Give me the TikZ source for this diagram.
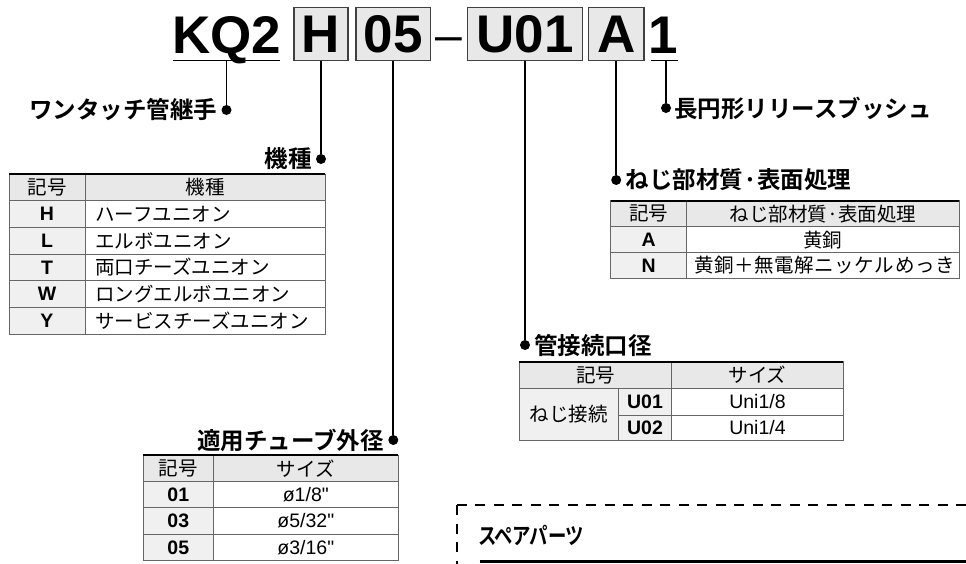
\documentclass[tikz,border=0pt]{standalone}
\usepackage{fontspec}
\setmainfont{Liberation Sans}
\newfontfamily\latin{Liberation Sans}
\newfontfamily\jp{Noto Sans CJK JP}
\newfontfamily\jpbold{Noto Sans CJK JP Bold}
\usetikzlibrary{positioning}
\newcommand\codefont{\latin\bfseries\fontsize{53}{60}\selectfont}
\newcommand\labelfont{\jpbold\fontsize{23.5}{28}\selectfont}
\newcommand\cellfont{\fontsize{19.5}{23}\selectfont}
\tikzset{
  codebox/.style={draw=black!75, fill=black!9, line width=1.4pt, minimum height=53.2pt, inner sep=0pt, font=\codefont},
  codechar/.style={inner sep=0pt, font=\codefont},
  lead/.style={line width=1.8pt},
  leaddot/.style={circle, fill=black, inner sep=0pt, minimum size=10pt},
  itemlabel/.style={inner sep=0pt, font=\labelfont},
  toprule/.style={line width=2pt},
  gridline/.style={draw=black!60, line width=0.8pt},
  headcell/.style={fill=black!9},
  keycell/.style={fill=black!6},
  cell/.style={inner sep=0pt, font=\jp\cellfont},
  keytext/.style={inner sep=0pt, font=\latin\bfseries\cellfont},
  numtext/.style={inner sep=0pt, font=\latin\cellfont},
}
\begin{document}
\begin{tikzpicture}[x=1pt,y=-1pt]
\useasboundingbox (0,0) rectangle (966,563);

% model code
\node[codechar, anchor=base] (codeKQ) at (226.5,53.3) {KQ2};
\node[codebox, minimum width=54pt] (codeH) at (321,33.9) {H};
\node[codebox, minimum width=74.7pt] (codeSize) at (393.3,33.9) {05};
\node[inner sep=0pt, anchor=base, font=\latin\fontsize{48}{50}\selectfont] (codeDash) at (449,51.5) {–};
\node[codebox, minimum width=115.4pt] (codePort) at (525,33.9) {U01};
\node[codebox, minimum width=55.7pt] (codeMat) at (616.2,33.9) {A};
\node[codechar, anchor=base] (codeBush) at (663,53.3) {1};
\draw[lead] (173,60.5) -- (280,60.5);
\draw[lead] (650.7,60.5) -- (678.3,60.5);
\coordinate (kqFoot) at (226.5,60.5);
\coordinate (bushFoot) at (666,60.5);

% leads and item labels
\node[leaddot] (kqDot) at (226.5,110) {};
\node[leaddot] (hDot) at (321,159) {};
\node[leaddot] (sizeDot) at (393.3,440) {};
\node[leaddot] (portDot) at (525,345) {};
\node[leaddot] (matDot) at (616.2,180) {};
\node[leaddot] (bushDot) at (666,108) {};
\draw[lead] (kqFoot) -- (kqDot);
\draw[lead] (codeH) -- (hDot);
\draw[lead] (codeSize) -- (sizeDot);
\draw[lead] (codePort) -- (portDot);
\draw[lead] (codeMat) -- (matDot);
\draw[lead] (bushFoot) -- (bushDot);
\node[itemlabel, left=4pt of kqDot] (kqLabel) {ワンタッチ管継手};
\node[itemlabel, left=4pt of hDot] (hLabel) {機種};
\node[itemlabel, left=4pt of sizeDot] (sizeLabel) {適用チューブ外径};
\node[itemlabel, right=4pt of portDot] (portLabel) {管接続口径};
\node[itemlabel, right=4pt of matDot] (matLabel) {ねじ部材質·表面処理};
\node[itemlabel, right=3pt of bushDot] (bushLabel) {長円形リリースブッシュ};

% table: kind
\fill[headcell] (9,174) rectangle (325,200.7);
\fill[keycell] (9,200.7) rectangle (85,334);
\foreach \y in {200.7,227.3,254,280.7,307.3} \draw[gridline] (9,\y) -- (325,\y);
\draw[gridline] (85,174) -- (85,334) (9,174) rectangle (325,334);
\draw[toprule] (9,174) -- (325,174);
\node[cell] (kindKeyHead) at (47,187.5) {記号};
\node[cell] (kindNameHead) at (205,187.5) {機種};
\foreach \k/\n [count=\i] in {H/ハーフユニオン, L/エルボユニオン, T/両口チーズユニオン, W/ロングエルボユニオン, Y/サービスチーズユニオン}{
  \node[keytext] (kindKey\i) at (47,187.5+26.67*\i) {\k};
  \node[cell, anchor=west] (kindName\i) at (95,187.5+26.67*\i) {\n};
}

% table: thread material
\fill[headcell] (610.7,200.7) rectangle (959,226.7);
\fill[keycell] (610.7,226.7) rectangle (686.7,278.3);
\draw[gridline] (610.7,226.7) -- (959,226.7) (610.7,252.7) -- (959,252.7);
\draw[gridline] (686.7,200.7) -- (686.7,278.3) (610.7,200.7) rectangle (959,278.3);
\draw[toprule] (610.7,200.7) -- (959,200.7);
\node[cell] (matKeyHead) at (648.7,213.7) {記号};
\node[cell] (matNameHead) at (822.9,213.7) {ねじ部材質·表面処理};
\node[keytext] (matKey1) at (648.7,239.7) {A};
\node[cell] (matName1) at (822.9,239.7) {黄銅};
\node[keytext] (matKey2) at (648.7,265.5) {N};
\node[cell] (matName2) at (824.5,265.5) {\addfontfeature{LetterSpace=3}黄銅＋無電解ニッケルめっき};

% table: port size
\fill[headcell] (519.3,361.7) rectangle (843.3,388.3);
\fill[keycell] (519.3,388.3) rectangle (671.7,440.7);
\draw[gridline] (519.3,388.3) -- (843.3,388.3) (618.3,415) -- (843.3,415);
\draw[gridline] (671.7,361.7) -- (671.7,440.7) (618.3,388.3) -- (618.3,440.7);
\draw[gridline] (519.3,361.7) rectangle (843.3,440.7);
\draw[toprule] (519.3,361.7) -- (843.3,361.7);
\node[cell] (portKeyHead) at (595.5,375) {記号};
\node[cell] (portSizeHead) at (757.5,375) {サイズ};
\node[cell] (portKind) at (568.8,414.5) {ねじ接続};
\node[keytext] (portKey1) at (645,401.7) {U01};
\node[keytext] (portKey2) at (645,427.8) {U02};
\node[numtext] (portSize1) at (757.5,401.7) {Uni1/8};
\node[numtext] (portSize2) at (757.5,427.8) {Uni1/4};

% table: tube O.D.
\fill[headcell] (143.3,455) rectangle (398.3,481.7);
\fill[keycell] (143.3,481.7) rectangle (213.3,560.7);
\foreach \y in {481.7,507.7,534.3} \draw[gridline] (143.3,\y) -- (398.3,\y);
\draw[gridline] (213.3,455) -- (213.3,560.7) (143.3,455) rectangle (398.3,560.7);
\draw[toprule] (143.3,455) -- (398.3,455);
\node[cell] (sizeKeyHead) at (178.3,468.3) {記号};
\node[cell] (sizeNameHead) at (305.8,468.3) {サイズ};
\foreach \k/\s [count=\i] in {01/{ø1/8"}, 03/{ø5/32"}, 05/{ø3/16"}}{
  \node[keytext] (sizeKey\i) at (178.3,468.3+26.4*\i) {\k};
  \node[numtext] (sizeName\i) at (305.8,468.3+26.4*\i) {\s};
}

% spare parts frame
\draw[line width=1.5pt, dash pattern=on 10pt off 8.5pt] (456.8,505.2) -- (980,505.2);
\draw[line width=1.5pt, dash pattern=on 10pt off 8.5pt] (456.8,505.2) -- (456.8,580);
\node[inner sep=0pt, font=\jpbold\fontsize{23}{27}\selectfont, anchor=west, xscale=0.8] (spareTitle) at (479,535) {\addfontfeature{RawFeature=+palt}スペアパーツ};
\draw[line width=2.4pt] (479.6,561.5) -- (975,561.5);
\end{tikzpicture}
\end{document}
